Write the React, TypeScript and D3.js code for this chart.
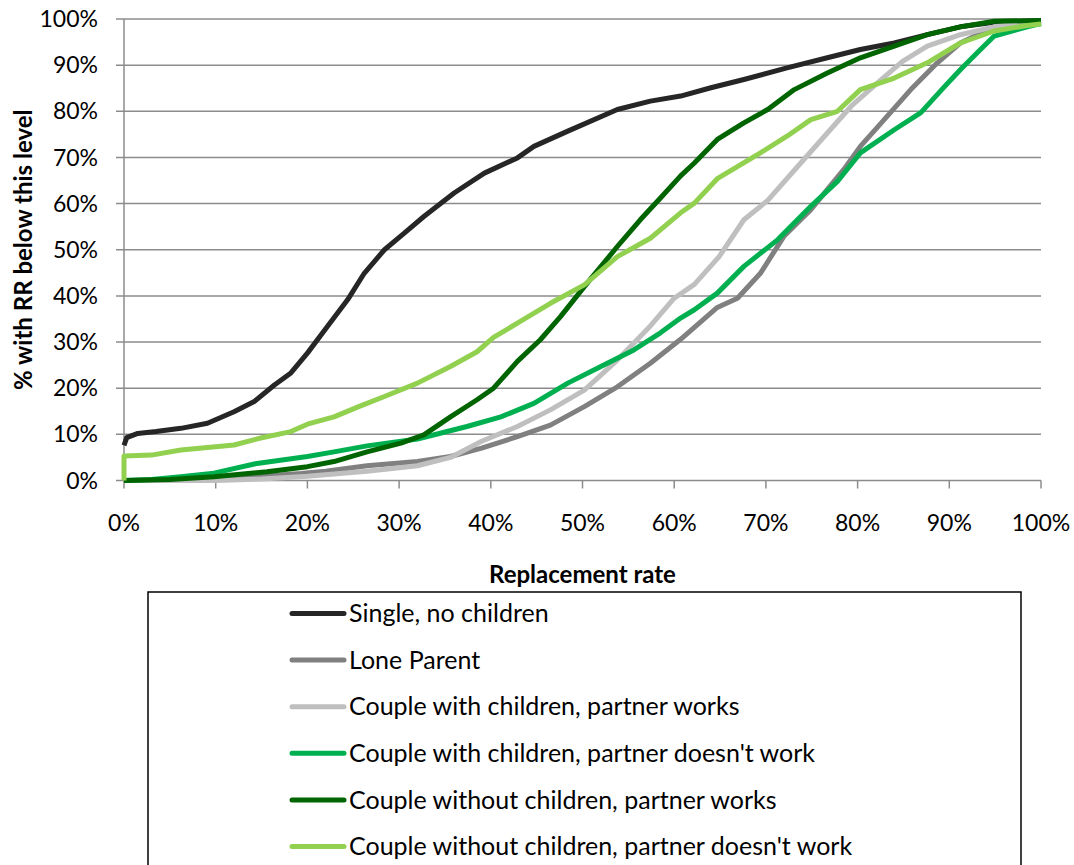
import React, { useEffect, useRef } from 'react';
import * as d3 from 'd3';

// [replacement rate %, % with RR below this level]
const singleNoChildren: [number, number][] = [
  [0, 7.6], [0.3, 9.3], [1.5, 10.2], [3.5, 10.6], [6.2, 11.3], [9.1, 12.4], [12, 14.9], [14.2, 17.1],
  [16.4, 20.7], [18.2, 23.3], [20, 27.6], [22.2, 33.4], [24.4, 39.2], [26.2, 44.9], [28.4, 50],
  [30.5, 53.5], [32.7, 57.2], [36, 62.3], [39.3, 66.6], [42.9, 69.9], [44.7, 72.4], [48.4, 75.7],
  [53.8, 80.4], [57.4, 82.2], [60.7, 83.3], [64, 85.1], [67.6, 86.9], [72.3, 89.4], [76.7, 91.6],
  [80.3, 93.4], [84, 94.8], [87.6, 96.6], [91.2, 98.3], [94.9, 99.3], [100, 99.6],
];

const loneParent: [number, number][] = [
  [0, 0], [5, 0], [10, 0.4], [15, 0.9], [19.3, 1.5], [22, 2], [26.5, 3.2], [32, 4.1], [35.6, 5.2],
  [39, 7], [42.9, 9.5], [46.5, 12], [50.2, 16], [53.8, 20.3], [57.4, 25.4], [60.7, 30.6], [62.2, 33.2],
  [64.7, 37.5], [66.9, 39.5], [69.4, 44.9], [72, 53], [74.9, 58.7], [78.5, 67.4], [80.3, 72.4],
  [82.9, 78.2], [85.8, 84.7], [88.7, 90.5], [91.2, 94.8], [94.9, 98.3], [100, 99.5],
];

const coupleChildrenWorks: [number, number][] = [
  [0, 0], [10, 0], [15, 0.3], [20, 0.9], [26.5, 2], [32, 3.2], [35.6, 5], [39, 8.5], [42.9, 11.7],
  [46.5, 15.3], [50.2, 19.6], [53.8, 26.1], [57.4, 33.5], [60, 39.5], [62.2, 42.5], [64.9, 48.5],
  [67.6, 56.5], [70.2, 60.7], [73.8, 68.8], [76.7, 75.3], [79.3, 81.1], [82.2, 86.2], [84.9, 90.8],
  [87.6, 94.1], [91.2, 96.6], [94.9, 98.3], [100, 99.5],
];

const coupleChildrenNoWork: [number, number][] = [
  [0, 0], [3, 0.2], [6.2, 0.8], [9.8, 1.6], [14.5, 3.7], [20, 5.2], [22.9, 6.2], [26.5, 7.5], [32, 9],
  [37.4, 11.7], [41.1, 13.8], [44.7, 16.7], [48.4, 21.1], [52, 24.7], [55.6, 28.3], [58.5, 32],
  [60.7, 35.2], [62.2, 37], [64.7, 40.6], [67.6, 46.4], [71.3, 52.2], [74.9, 59.4], [77.8, 64.8],
  [80.3, 71], [84, 76], [86.9, 79.7], [89.5, 85.4], [91.2, 89], [93.4, 93.4], [94.9, 96.3],
  [98.5, 98.3], [100, 99],
];

const coupleNoChildrenWorks: [number, number][] = [
  [0, 0], [5, 0.2], [9.8, 0.8], [15.6, 1.9], [20, 3], [22.9, 4.1], [26.5, 6.2], [30.2, 8.1], [32.7, 9.9],
  [35.6, 13.8], [38.5, 17.5], [40.3, 20], [42.9, 25.8], [45.4, 30.5], [47.6, 35.5], [50.2, 42],
  [53.8, 50.7], [56.3, 56.5], [58.5, 61.2], [60.7, 66], [62.2, 68.8], [64.7, 73.9], [67.6, 77.5],
  [70.2, 80.4], [73.1, 84.7], [76.7, 88.3], [80.3, 91.6], [84, 94.1], [87.6, 96.6], [91.2, 98.3],
  [94.9, 99.5], [100, 99.7],
];

const coupleNoChildrenNoWork: [number, number][] = [
  [0, 0], [0, 5.3], [3, 5.5], [6.2, 6.6], [12, 7.7], [14.9, 9.2], [18.2, 10.6], [20, 12.2], [22.9, 13.8],
  [25.6, 16], [28.4, 18.2], [32, 21.1], [35.6, 24.7], [38.5, 27.9], [40.3, 31], [42.9, 34.1],
  [46.5, 38.4], [50.2, 42.4], [53.8, 48.5], [57.4, 52.5], [60.7, 58], [62.2, 60.1], [64.7, 65.4],
  [69.4, 71], [72.3, 74.6], [74.9, 78.2], [77.8, 80], [80.3, 84.7], [84, 87.2], [87.6, 90.5],
  [91.2, 94.8], [94.9, 97.4], [98.5, 98.6], [100, 98.9],
];

const seriesNames = [
  'Single, no children',
  'Lone Parent',
  'Couple with children, partner works',
  "Couple with children, partner doesn't work",
  'Couple without children, partner works',
  "Couple without children, partner doesn't work",
];
const seriesData = [
  singleNoChildren,
  loneParent,
  coupleChildrenWorks,
  coupleChildrenNoWork,
  coupleNoChildrenWorks,
  coupleNoChildrenNoWork,
];
const seriesColors = ['#262626', '#808080', '#BFBFBF', '#00B050', '#006400', '#92D050'];

const ticks = [0, 10, 20, 30, 40, 50, 60, 70, 80, 90, 100];

const FONT = 'Lato, "Open Sans", sans-serif';

export default function App() {
  const svgRef = useRef<SVGSVGElement>(null);

  useEffect(() => {
    if (!svgRef.current) return;
    const root = d3.select(svgRef.current);
    root.selectAll('*').remove();

    const left = 124;
    const right = 1041;
    const top = 19;
    const bottom = 480.5;

    const x = d3.scaleLinear().domain([0, 100]).range([left, right]);
    const y = d3.scaleLinear().domain([0, 100]).range([bottom, top]);

    // gridlines + y ticks
    root
      .append('g')
      .selectAll('line')
      .data(ticks)
      .enter()
      .append('line')
      .attr('x1', left - 8)
      .attr('x2', right)
      .attr('y1', (d) => y(d))
      .attr('y2', (d) => y(d))
      .attr('stroke', '#8c8c8c')
      .attr('stroke-width', 1.5);

    // y axis line
    root
      .append('line')
      .attr('x1', left)
      .attr('x2', left)
      .attr('y1', top)
      .attr('y2', bottom)
      .attr('stroke', '#8c8c8c')
      .attr('stroke-width', 1.5);

    // x ticks
    root
      .append('g')
      .selectAll('line')
      .data(ticks)
      .enter()
      .append('line')
      .attr('x1', (d) => x(d))
      .attr('x2', (d) => x(d))
      .attr('y1', bottom)
      .attr('y2', bottom + 8)
      .attr('stroke', '#8c8c8c')
      .attr('stroke-width', 1.5);

    // y tick labels
    root
      .append('g')
      .selectAll('text')
      .data(ticks)
      .enter()
      .append('text')
      .attr('x', 98)
      .attr('y', (d) => y(d))
      .attr('dy', '0.35em')
      .attr('text-anchor', 'end')
      .attr('font-family', FONT)
      .attr('font-size', 23)
      .attr('fill', '#000')
      .text((d) => `${d}%`);

    // x tick labels
    root
      .append('g')
      .selectAll('text')
      .data(ticks)
      .enter()
      .append('text')
      .attr('x', (d) => x(d))
      .attr('y', 523)
      .attr('dy', '0.35em')
      .attr('text-anchor', 'middle')
      .attr('font-family', FONT)
      .attr('font-size', 23)
      .attr('fill', '#000')
      .text((d) => `${d}%`);

    // axis titles
    root
      .append('text')
      .attr('x', (left + right) / 2)
      .attr('y', 575)
      .attr('dy', '0.35em')
      .attr('text-anchor', 'middle')
      .attr('font-family', FONT)
      .attr('font-weight', 'bold')
      .attr('font-size', 24)
      .text('Replacement rate');

    root
      .append('text')
      .attr('transform', `translate(24,${(top + bottom) / 2}) rotate(-90)`)
      .attr('dy', '0.35em')
      .attr('text-anchor', 'middle')
      .attr('font-family', FONT)
      .attr('font-weight', 'bold')
      .attr('font-size', 24)
      .text('% with RR below this level');

    // series lines
    const line = d3
      .line<[number, number]>()
      .x((d) => x(d[0]))
      .y((d) => y(d[1]))
      .curve(d3.curveLinear);

    seriesData.forEach((data, i) => {
      root
        .append('path')
        .datum(data)
        .attr('d', line)
        .attr('fill', 'none')
        .attr('stroke', seriesColors[i])
        .attr('stroke-width', 5)
        .attr('stroke-linejoin', 'round');
    });

    // legend
    const legend = root.append('g');
    legend
      .append('rect')
      .attr('x', 148)
      .attr('y', 592)
      .attr('width', 873)
      .attr('height', 300)
      .attr('fill', '#fff')
      .attr('stroke', '#000')
      .attr('stroke-width', 1.5);

    const items = legend
      .selectAll('g.item')
      .data(seriesNames)
      .enter()
      .append('g')
      .attr('class', 'item')
      .attr('transform', (_, i) => `translate(0,${613.5 + i * 46.6})`);

    items
      .append('line')
      .attr('x1', 292)
      .attr('x2', 344)
      .attr('stroke', (_, i) => seriesColors[i])
      .attr('stroke-width', 5)
      .attr('stroke-linecap', 'round');

    items
      .append('text')
      .attr('x', 349)
      .attr('dy', '0.35em')
      .attr('font-family', FONT)
      .attr('font-size', 25)
      .attr('fill', '#000')
      .text((d) => d);
  }, []);

  return (
    <svg
      ref={svgRef}
      width={1074}
      height={865}
      style={{ position: 'absolute', left: 0, top: 0, background: '#fff' }}
    />
  );
}
